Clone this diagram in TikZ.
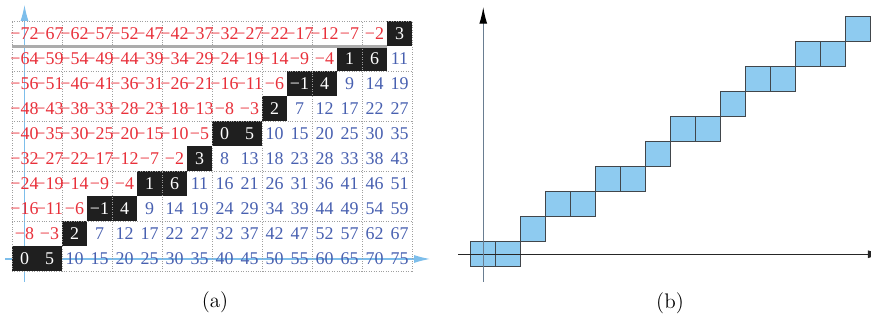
\documentclass[tikz,border=0pt]{standalone}
\usepackage{fontspec}
\newfontfamily\numfont{Liberation Serif}
\usetikzlibrary{arrows.meta}
\definecolor{numred}{RGB}{232,48,58}
\definecolor{numblue}{RGB}{72,96,176}
\definecolor{axisblue}{RGB}{125,190,235}
\definecolor{boxblue}{RGB}{142,203,240}
\definecolor{boxline}{RGB}{65,70,75}
\definecolor{vaxis}{RGB}{105,125,145}
\begin{document}
\begin{tikzpicture}[x=0.5cm,y=0.5cm,
  num/.style={font=\numfont\fontsize{10.2}{11}\selectfont, inner sep=0pt},
  caption/.style={font=\fontsize{12}{14}\selectfont},
  cell/.style={fill=boxblue, draw=boxline, line width=0.6pt}]
  \useasboundingbox (0,0) rectangle (34.84,12.96);
  % (a) table of values 5i-8j
  \begin{scope}[shift={(0.48,2.1)}]
  \draw [axisblue, line width=0.6pt, -{Latex[length=9pt,width=4.5pt]}] (-0.28,0.5) -- (16.72,0.5);
  \draw [axisblue, line width=0.6pt, -{Latex[length=9pt,width=4.5pt]}] (0.5,-0.42) -- (0.5,10.66);
  \foreach \i in {0,...,15} {
    \pgfmathtruncatemacro\row{floor((5*\i+1)/8)}
    \fill [black!88] (\i,\row) rectangle ++(1,1);
  }
  \draw [gray!75, densely dotted, line width=0.4pt] (0,0) grid (16,10);
  \draw [gray!65, line width=1.6pt] (0,9) -- (15,9);
  \foreach \i in {0,...,15} \foreach \j in {0,...,9} {
    \pgfmathtruncatemacro\val{5*\i-8*\j}
    \pgfmathtruncatemacro\absval{abs(\val)}
    \ifnum\val<-1
      \node [num, numred] at (\i+0.5,\j+0.5) {−\absval};
    \else\ifnum\val>6
      \node [num, numblue] at (\i+0.5,\j+0.5) {\val};
    \else
      \node [num, white] at (\i+0.5,\j+0.5) {\ifnum\val<0 −\fi\absval};
    \fi\fi
  }
  \end{scope}
  % (b) staircase
  \begin{scope}[shift={(19.33,2.79)}]
  \foreach \i in {0,...,15} {
    \pgfmathtruncatemacro\row{floor((5*\i+1)/8)}
    \draw [cell] (\i-0.5,\row-0.5) rectangle ++(1,1);
  }
  \draw [black!85, line width=0.6pt, -{Latex[length=9.5pt,width=4.5pt]}] (-1.01,0) -- (16.05,0);
  \draw [vaxis, line width=0.7pt, -{Latex[length=9.5pt,width=4.5pt,color=black]}] (0,-1.11) -- (0,9.89);
  \end{scope}
  \node [caption] (capA) at (8.6,0.88) {(a)};
  \node [caption] (capB) at (26.8,0.85) {(b)};
\end{tikzpicture}
\end{document}
